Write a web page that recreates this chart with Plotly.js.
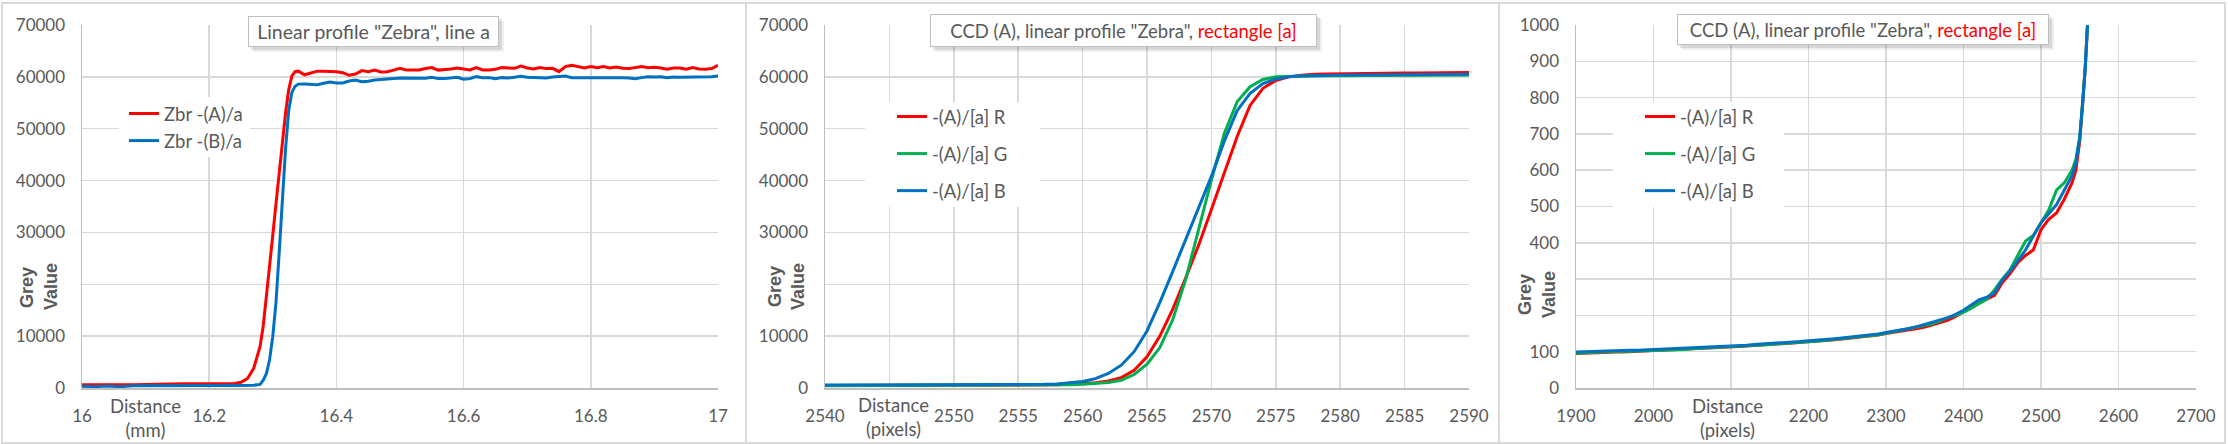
<!DOCTYPE html>
<html>
<head>
<meta charset="utf-8">
<script src="https://cdn.plot.ly/plotly-3.0.1.min.js"></script>
<style>
html,body{margin:0;padding:0;background:#fff;}
#chart{width:2228px;height:444px;}
</style>
</head>
<body>
<div id="chart"></div>
<script>
// ---------- Panel 1: Linear profile "Zebra", line a (distance in mm) ----------
const zebraDistMm = [16.00,16.02,16.04,16.06,16.08,16.10,16.12,16.14,16.16,16.18,16.20,16.22,16.24,
  16.25,16.26,16.27,16.28,16.285,16.29,16.295,16.30,16.305,16.31,16.315,16.32,16.325,16.33,16.335,16.34,
  16.35,16.36,16.37,16.38,16.39,16.40,16.41,16.42,16.43,16.44,16.45,16.46,16.47,16.48,16.49,16.50,
  16.51,16.52,16.53,16.54,16.55,16.56,16.57,16.58,16.59,16.60,16.61,16.62,16.63,16.64,16.65,16.66,
  16.67,16.68,16.69,16.70,16.71,16.72,16.73,16.74,16.75,16.76,16.77,16.78,16.79,16.80,16.81,16.82,
  16.83,16.84,16.85,16.86,16.87,16.88,16.89,16.90,16.91,16.92,16.93,16.94,16.95,16.96,16.97,16.98,16.99,17.00];
const zbrA = [650,600,650,620,650,640,660,750,800,800,800,820,850,
  1100,1800,3800,8000,12000,17500,23500,29500,35500,41500,47500,53000,57500,60200,61000,61100,
  60400,60800,61100,61100,61100,61000,60800,60300,60550,61200,61000,61300,60950,61000,61300,61650,
  61300,61300,61330,61600,61800,61300,61330,61500,61700,61450,61330,61800,61330,61330,61450,61780,
  61780,61650,62100,61710,61520,61780,61590,61650,61000,61970,62230,61970,61710,61970,61780,61970,
  61710,61910,61650,61590,61780,61970,61780,61840,61710,61460,61710,61710,61460,61780,61520,61460,61590,62230];
const zbrB = [350,250,400,250,420,450,460,470,480,480,490,500,500,
  500,520,550,700,1500,2800,5500,10000,16500,26000,36000,46000,53500,57000,58200,58600,
  58630,58500,58500,58760,59020,58820,58820,59210,59400,59080,59150,59400,59470,59470,59660,59790,
  59790,59660,59660,59720,59920,59660,59660,59790,59920,59530,59660,60040,59850,59850,59660,59850,
  59790,59920,60110,59920,59850,59920,59790,59980,60110,60170,59850,59850,59980,59920,59980,59850,
  59920,59980,59850,59790,59660,59850,60040,59980,60040,59850,59980,59920,59920,60040,59980,59980,60040,60170];

// ---------- Panel 2: CCD (A), rectangle [a], pixels 2540-2590 ----------
const edgePx = [2540,2541,2542,2543,2544,2545,2546,2547,2548,2549,2550,2551,2552,2553,2554,2555,2556,2557,2558,2559,
  2560,2561,2562,2563,2564,2565,2566,2567,2568,2569,2570,2571,2572,2573,2574,2575,2576,2577,2578,2579,
  2580,2581,2582,2583,2584,2585,2586,2587,2588,2589,2590];
const edgeR = [500,500,505,505,510,510,515,520,520,525,530,530,535,540,545,550,560,580,620,700,
  820,1000,1350,2000,3400,6000,10000,15200,21200,27500,34400,41400,48500,54500,57800,59300,60000,60300,60500,60550,
  60600,60620,60650,60670,60700,60720,60740,60760,60780,60800,60820];
const edgeG = [450,455,460,460,465,470,470,475,480,480,485,490,490,495,500,505,520,540,580,640,
  720,850,1050,1500,2600,4600,7800,13200,20900,30500,40100,49100,55200,58100,59500,60000,60100,60150,60200,60200,
  60220,60230,60240,60250,60260,60270,60280,60290,60300,60320,60340];
const edgeB = [600,600,600,605,605,610,610,615,615,620,620,625,630,635,640,645,660,700,780,950,
  1250,1800,2800,4400,7000,11000,16500,22500,28500,34800,40800,47600,53500,56800,58700,59600,60000,60150,60250,60300,
  60320,60340,60360,60380,60400,60420,60440,60460,60480,60500,60520];

// ---------- Panel 3: CCD (A), rectangle [a], pixels 1900-2700, low grey values ----------
const tailPx = [1900,1910,1920,1930,1940,1950,1960,1970,1980,1990,2000,2010,2020,2030,2040,2050,2060,2070,2080,2090,
  2100,2110,2120,2130,2140,2150,2160,2170,2180,2190,2200,2210,2220,2230,2240,2250,2260,2270,2280,2290,
  2300,2310,2320,2330,2340,2350,2360,2370,2380,2390,2400,2410,2420,2430,2440,2450,2460,2470,2480,2490,
  2500,2510,2520,2530,2540,2545,2550,2554,2557,2560,2563];
const tailR = [95,96,97,98,98,99,99,100,101,102,103,103,104,105,106,107,108,109,110,111,
  113,114,116,117,118,120,121,123,124,126,127,129,130,132,134,136,138,140,143,146,
  150,153,157,160,164,168,173,180,187,197,210,223,234,245,255,290,315,345,365,380,
  436,465,482,520,565,600,680,790,880,1000,1400];
const tailG = [96,98,98,99,99,100,101,101,102,102,103,104,105,105,106,108,109,110,111,112,
  113,115,116,118,119,120,122,123,125,126,128,129,131,133,135,137,139,141,144,147,
  151,155,159,163,167,171,177,185,194,200,208,220,232,245,270,300,325,365,405,420,
  455,490,545,565,600,630,690,790,880,1000,1400];
const tailB = [99,100,101,102,102,103,103,104,104,105,106,106,107,108,109,110,111,112,113,114,
  116,117,118,120,121,122,124,126,127,128,130,131,133,135,137,139,141,143,146,149,
  153,156,160,164,169,175,182,187,194,203,214,229,243,250,262,298,322,350,380,418,
  455,480,505,545,585,620,690,790,880,1000,1400];

// ---------- tick labels ----------
const yTicks70k = [0,10000,20000,30000,40000,50000,60000,70000];
const yTicks70kText = ['0','10000','','30000','40000','50000','60000','70000'];
const yTicks1k = [0,100,200,300,400,500,600,700,800,900,1000];
const yTicks1kText = ['0','100','','','400','500','600','700','800','900','1000'];
const xTicksMm = [16,16.2,16.4,16.6,16.8,17];
const xTicksMmText = ['16','16.2','16.4','16.6','16.8','17'];
const xTicksEdge = [2540,2545,2550,2555,2560,2565,2570,2575,2580,2585,2590];
const xTicksEdgeText = ['2540','','2550','2555','2560','2565','2570','2575','2580','2585','2590'];
const xTicksTail = [1900,2000,2100,2200,2300,2400,2500,2600,2700];
const xTicksTailText = ['1900','2000','','2200','2300','2400','2500','2600','2700'];

const W = 2228, H = 444;
const fx = p => p / W;
const fy = p => 1 - p / H;
const RED = '#FF0000', GREEN = '#00B050', BLUE = '#0070C0';
const TXT = "Lato, 'Open Sans', sans-serif";
const NUM = "Lato, 'Open Sans', sans-serif";
const GREYTXT = '#595959';

const baseAxis = {
  showgrid: true, gridcolor: '#D9D9D9', gridwidth: 1.5,
  showline: true, linecolor: '#BFBFBF', linewidth: 1.5,
  zeroline: false, ticks: '', fixedrange: true,
  tickfont: {family: NUM, size: 17, color: GREYTXT},
  ticklabelstandoff: 12
};
const PT = 25, PB = 388;
const yDom = [1 - PB / H, 1 - PT / H];

const lw = 3;
const traces = [
  {x: zebraDistMm, y: zbrA, name: 'Zbr -(A)/a', type: 'scatter', mode: 'lines', line: {color: RED, width: lw}, xaxis: 'x', yaxis: 'y', legend: 'legend'},
  {x: zebraDistMm, y: zbrB, name: 'Zbr -(B)/a', type: 'scatter', mode: 'lines', line: {color: BLUE, width: lw}, xaxis: 'x', yaxis: 'y', legend: 'legend'},
  {x: edgePx, y: edgeR, name: '-(A)/[a] R', type: 'scatter', mode: 'lines', line: {color: RED, width: lw}, xaxis: 'x2', yaxis: 'y2', legend: 'legend2', legendgroup: 'r2'},
  {x: edgePx, y: edgeG, name: '-(A)/[a] G', type: 'scatter', mode: 'lines', line: {color: GREEN, width: lw}, xaxis: 'x2', yaxis: 'y2', legend: 'legend2', legendgroup: 'g2'},
  {x: edgePx, y: edgeB, name: '-(A)/[a] B', type: 'scatter', mode: 'lines', line: {color: BLUE, width: lw}, xaxis: 'x2', yaxis: 'y2', legend: 'legend2', legendgroup: 'b2'},
  {x: tailPx, y: tailR, name: '-(A)/[a] R', type: 'scatter', mode: 'lines', line: {color: RED, width: lw}, xaxis: 'x3', yaxis: 'y3', legend: 'legend3', legendgroup: 'r3'},
  {x: tailPx, y: tailG, name: '-(A)/[a] G', type: 'scatter', mode: 'lines', line: {color: GREEN, width: lw}, xaxis: 'x3', yaxis: 'y3', legend: 'legend3', legendgroup: 'g3'},
  {x: tailPx, y: tailB, name: '-(A)/[a] B', type: 'scatter', mode: 'lines', line: {color: BLUE, width: lw}, xaxis: 'x3', yaxis: 'y3', legend: 'legend3', legendgroup: 'b3'}
];

function whiteCover(x0, y0, x1, y1) {
  return {type: 'rect', xref: 'paper', yref: 'paper', layer: 'above',
    x0: fx(x0), x1: fx(x1), y0: fy(y1), y1: fy(y0),
    fillcolor: '#FFFFFF', line: {width: 0}};
}
function panelRect(x0, y0, x1, y1) {
  return {type: 'rect', xref: 'paper', yref: 'paper', x0: fx(x0), x1: fx(x1), y0: fy(y1), y1: fy(y0),
    line: {color: '#D9D9D9', width: 2}, fillcolor: 'rgba(0,0,0,0)', layer: 'above'};
}
function shadow(x0, y0, x1, y1, d, op) {
  return {type: 'rect', xref: 'paper', yref: 'paper', x0: fx(x0 + d), x1: fx(x1 + d), y0: fy(y1 + d), y1: fy(y0 + d),
    line: {width: 0}, fillcolor: 'rgba(0,0,0,' + op + ')', layer: 'above'};
}
function titleBox(x0, y0, x1, y1, text, size) {
  return {xref: 'paper', yref: 'paper', x: fx((x0 + x1) / 2), y: fy((y0 + y1) / 2), xanchor: 'center', yanchor: 'middle',
    showarrow: false, text: text, width: x1 - x0 - 2, height: y1 - y0 - 2, borderpad: 0,
    bgcolor: '#FFFFFF', bordercolor: '#BFBFBF', borderwidth: 1,
    font: {family: TXT, size: size, color: GREYTXT}};
}
function label(x, y, text, angle, fam, size, weight) {
  return {xref: 'paper', yref: 'paper', x: fx(x), y: fy(y), xanchor: 'center', yanchor: 'middle', showarrow: false,
    text: text, textangle: angle || 0, font: {family: fam, size: size, color: GREYTXT, weight: weight || 'normal'}};
}

const shapes = [
  panelRect(2, 3, 746, 443), panelRect(746, 3, 1499, 443), panelRect(1499, 3, 2225, 443),
  whiteCover(119, 97, 250, 157),
  whiteCover(865, 102, 1040, 207),
  whiteCover(1613, 102, 1784, 207),
  shadow(248, 16, 499, 47, 5, 0.06), shadow(248, 16, 499, 47, 3, 0.10),
  shadow(930, 14, 1317, 47, 5, 0.06), shadow(930, 14, 1317, 47, 3, 0.10),
  shadow(1677, 14, 2049, 45, 5, 0.06), shadow(1677, 14, 2049, 45, 3, 0.10)
];

const GV = "'Liberation Sans', Arial, sans-serif";
const annotations = [
  titleBox(248, 16, 499, 47, 'Linear profile "Zebra", line a', 19.5),
  titleBox(930, 14, 1317, 47, 'CCD (A), linear profile "Zebra", <span style="color:#FF0000">rectangle [a]</span>', 18.5),
  titleBox(1677, 14, 2049, 45, 'CCD (A), linear profile "Zebra", <span style="color:#FF0000">rectangle [a]</span>', 18.5),
  label(145, 418, 'Distance<br>(mm)', 0, TXT, 18.5),
  label(893, 417, 'Distance<br>(pixels)', 0, TXT, 18.5),
  label(1728, 418, 'Distance<br>(pixels)', 0, TXT, 18.5),
  label(27, 287, 'Grey', -90, GV, 18, 'bold'),
  label(51, 287, 'Value', -90, GV, 18, 'bold'),
  label(775, 287, 'Grey', -90, GV, 18, 'bold'),
  label(798, 287, 'Value', -90, GV, 18, 'bold'),
  label(1525, 295, 'Grey', -90, GV, 18, 'bold'),
  label(1549, 295, 'Value', -90, GV, 18, 'bold')
];

const legFont = {family: TXT, size: 18.5, color: GREYTXT};
const layout = {
  width: W, height: H, margin: {l: 0, r: 0, t: 0, b: 0},
  paper_bgcolor: '#FFFFFF', plot_bgcolor: '#FFFFFF', showlegend: true,
  xaxis: Object.assign({}, baseAxis, {domain: [fx(82), fx(718)], range: [16, 17], tickvals: xTicksMm, ticktext: xTicksMmText, anchor: 'y'}),
  yaxis: Object.assign({}, baseAxis, {domain: yDom, range: [0, 70000], tickvals: yTicks70k, ticktext: yTicks70kText, anchor: 'x'}),
  xaxis2: Object.assign({}, baseAxis, {domain: [fx(825), fx(1469)], range: [2540, 2590], tickvals: xTicksEdge, ticktext: xTicksEdgeText, anchor: 'y2'}),
  yaxis2: Object.assign({}, baseAxis, {domain: yDom, range: [0, 70000], tickvals: yTicks70k, ticktext: yTicks70kText, anchor: 'x2'}),
  xaxis3: Object.assign({}, baseAxis, {domain: [fx(1576), fx(2196)], range: [1900, 2700], tickvals: xTicksTail, ticktext: xTicksTailText, anchor: 'y3'}),
  yaxis3: Object.assign({}, baseAxis, {domain: yDom, range: [0, 1000], tickvals: yTicks1k, ticktext: yTicks1kText, anchor: 'x3'}),
  legend: {x: fx(124), y: fy(95), xanchor: 'left', yanchor: 'top', bgcolor: 'rgba(0,0,0,0)', borderwidth: 0, font: legFont, tracegroupgap: 0},
  legend2: {x: fx(892), y: fy(98), xanchor: 'left', yanchor: 'top', bgcolor: 'rgba(0,0,0,0)', borderwidth: 0, font: legFont, traceorder: 'grouped', tracegroupgap: 10},
  legend3: {x: fx(1640), y: fy(98), xanchor: 'left', yanchor: 'top', bgcolor: 'rgba(0,0,0,0)', borderwidth: 0, font: legFont, traceorder: 'grouped', tracegroupgap: 10},
  shapes: shapes, annotations: annotations
};

Plotly.newPlot('chart', traces, layout, {displayModeBar: false, staticPlot: true});
</script>
</body>
</html>
